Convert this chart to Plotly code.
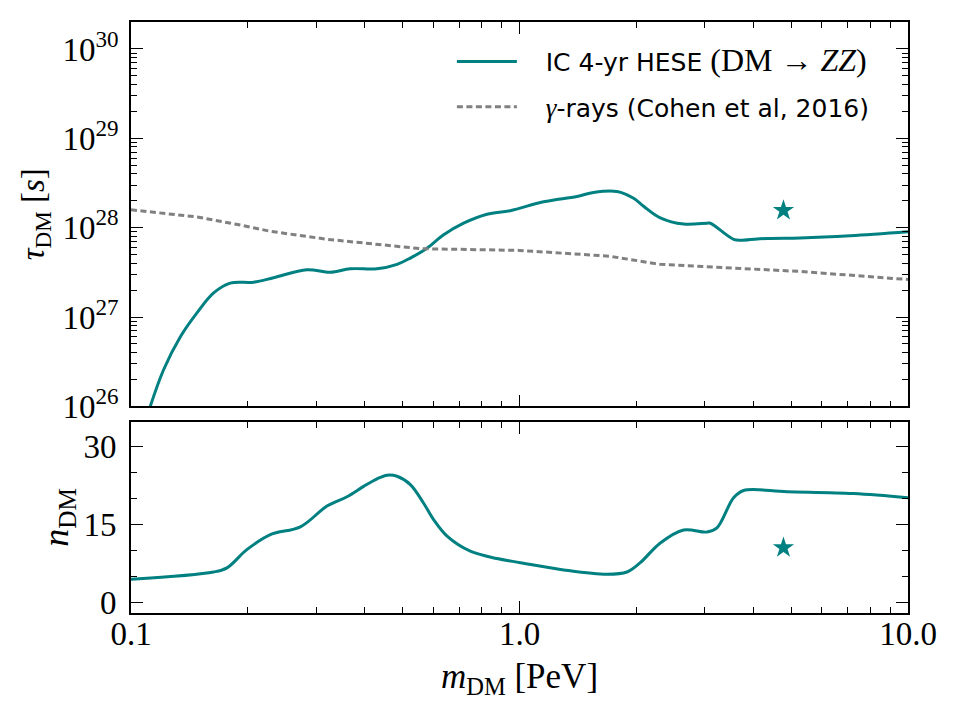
import plotly.graph_objects as go

# ---------------- data ----------------
# IceCube 4-yr HESE lifetime limit (DM -> ZZ), top panel
m_ic = [0.1121, 0.1213, 0.134, 0.148, 0.1632, 0.180, 0.2068, 0.2328, 0.2838, 0.326,
        0.3668, 0.430, 0.4839, 0.5236, 0.578, 0.638, 0.718, 0.825, 0.946, 1.153,
        1.406, 1.551, 1.782, 1.967, 2.087, 2.304, 2.645, 3.04, 3.10, 3.557, 3.740,
        4.336, 5.28, 7.10, 10.0]
logtau_ic = [26.0, 26.41, 26.78, 27.05, 27.27, 27.38, 27.39, 27.44, 27.53, 27.50,
             27.54, 27.54, 27.59, 27.66, 27.77, 27.92, 28.05, 28.15, 28.19, 28.29,
             28.35, 28.395, 28.406, 28.33, 28.24, 28.11, 28.04, 28.05, 28.05, 27.87, 27.86,
             27.88, 27.885, 27.91, 27.955]
tau_ic = [10.0 ** v for v in logtau_ic]

# gamma-ray limit (Cohen et al 2016)
m_gam = [0.1, 0.148, 0.191, 0.228, 0.32, 0.556, 1.0, 1.71, 2.30, 3.10, 5.28, 10.0]
logtau_gam = [28.20, 28.12, 28.03, 27.96, 27.87, 27.765, 27.746, 27.68, 27.59, 27.56, 27.51, 27.42]
tau_gam = [10.0 ** v for v in logtau_gam]

# best-fit point (star)
m_best = [4.78]
tau_best = [1.56e28]
n_best = [10.6]

# number of DM events, bottom panel
m_n = [0.1, 0.1632, 0.1766, 0.1987, 0.2284, 0.2729, 0.3195, 0.3597, 0.397, 0.430,
       0.456, 0.484, 0.5236, 0.566, 0.601, 0.651, 0.747, 0.875, 1.005, 1.299,
       1.680, 1.891, 2.046, 2.304, 2.645, 3.04, 3.223, 3.557, 3.775, 4.88,
       7.24, 10.0]
n_dm = [4.5, 5.9, 6.7, 10.2, 13.1, 14.6, 18.6, 20.4, 22.4, 23.85,
        24.54, 24.35, 22.75, 19.2, 16.0, 12.8, 9.9, 8.5, 7.7, 6.3,
        5.45, 5.9, 7.7, 11.5, 14.0, 13.6, 14.4, 20.2, 21.6, 21.35,
        21.0, 20.2]

TEAL = "#008080"
GRAY = "#808080"
SERIF = "Liberation Serif"
SANS = "DejaVu Sans"

x_major = [0.1, 1.0, 10.0]
x_labels = ["0.1", "1.0", "10.0"]
x_minor = [k * 10.0 ** e for e in (-1, 0) for k in range(2, 10)]
y_major = [1e26, 1e27, 1e28, 1e29, 1e30]
y_labels = ["10<sup>26</sup>", "10<sup>27</sup>", "10<sup>28</sup>", "10<sup>29</sup>", "10<sup>30</sup>"]
y_minor = [k * 10.0 ** e for e in range(26, 31) for k in range(2, 10)]
n_major = [0, 15, 30]
n_minor = [5, 10, 20, 25]

NB = "\u00a0\u00a0\u00a0"
fig = go.Figure()
fig.add_trace(go.Scatter(x=m_ic, y=tau_ic, mode="lines", line=dict(color=TEAL, width=3, shape="spline", smoothing=1.0),
                         name=NB + "IC 4-yr HESE <span style='font-family:Liberation Serif;font-size:32px'>(DM → <i>ZZ</i>)</span>",
                         xaxis="x", yaxis="y", legend="legend", showlegend=True))
fig.add_trace(go.Scatter(x=m_gam, y=tau_gam, mode="lines", line=dict(color=GRAY, width=3, dash="6px,3.5px"),
                         name=NB + "<span style='font-family:Liberation Serif;font-size:27px'><i>γ</i></span>-rays (Cohen et al, 2016)",
                         xaxis="x", yaxis="y", legend="legend2"))
fig.add_trace(go.Scatter(x=m_best, y=tau_best, mode="markers", marker=dict(symbol="star", size=16, color=TEAL),
                         showlegend=False, xaxis="x", yaxis="y"))
fig.add_trace(go.Scatter(x=m_n, y=n_dm, mode="lines", line=dict(color=TEAL, width=3, shape="spline", smoothing=1.0),
                         showlegend=False, xaxis="x2", yaxis="y2"))
fig.add_trace(go.Scatter(x=m_best, y=n_best, mode="markers", marker=dict(symbol="star", size=16, color=TEAL),
                         showlegend=False, xaxis="x2", yaxis="y2"))

axis_common = dict(showline=True, linecolor="black", linewidth=1.6, mirror="allticks",
                   ticks="inside", ticklen=12, tickwidth=1.4, tickcolor="black",
                   showgrid=False, zeroline=False)
minor_common = dict(ticks="inside", ticklen=6, tickwidth=1.2, tickcolor="black", showgrid=False)

fig.update_layout(
    width=960, height=720,
    margin=dict(l=131, r=52, t=22, b=107),
    paper_bgcolor="white", plot_bgcolor="white",
    font=dict(family=SERIF, size=30, color="black"),
    xaxis=dict(type="log", range=[-1, 1], domain=[0, 1], anchor="y", matches="x2",
               tickmode="array", tickvals=x_major, showticklabels=False,
               minor=dict(tickmode="array", tickvals=x_minor, **minor_common), **axis_common),
    yaxis=dict(type="log", range=[26, 30.302], domain=[0.3496, 1], anchor="x",
               tickmode="array", tickvals=y_major, ticktext=y_labels,
               tickfont=dict(family=SERIF, size=33), ticklabelstandoff=4,
               minor=dict(tickmode="array", tickvals=y_minor, **minor_common),
               title=dict(text="<i>τ</i><sub>DM</sub> [<i>s</i>]", font=dict(family=SERIF, size=33), standoff=8),
               **axis_common),
    xaxis2=dict(type="log", range=[-1, 1], domain=[0, 1], anchor="y2",
                tickmode="array", tickvals=x_major, ticktext=x_labels,
                tickfont=dict(family=SERIF, size=33), ticklabelstandoff=-9,
                minor=dict(tickmode="array", tickvals=x_minor, **minor_common),
                title=dict(text="<i>m</i><sub>DM</sub> [PeV]", font=dict(family=SERIF, size=35), standoff=12),
                **axis_common),
    yaxis2=dict(range=[-2, 34.8], domain=[0, 0.3232], anchor="x2",
                tickmode="array", tickvals=n_major,
                tickfont=dict(family=SERIF, size=33), ticklabelstandoff=6,
                minor=dict(tickmode="array", tickvals=n_minor, **minor_common),
                title=dict(text="<i>n</i><sub>DM</sub>", font=dict(family=SERIF, size=36), standoff=4),
                **axis_common),
    legend=dict(x=0.413, y=0.9715, xanchor="left", yanchor="top", bgcolor="rgba(0,0,0,0)",
                font=dict(family=SANS, size=25), itemwidth=60),
    legend2=dict(x=0.413, y=0.895, xanchor="left", yanchor="top", bgcolor="rgba(0,0,0,0)",
                 font=dict(family=SANS, size=25), itemwidth=60),
)

fig.write_html("out.html")
